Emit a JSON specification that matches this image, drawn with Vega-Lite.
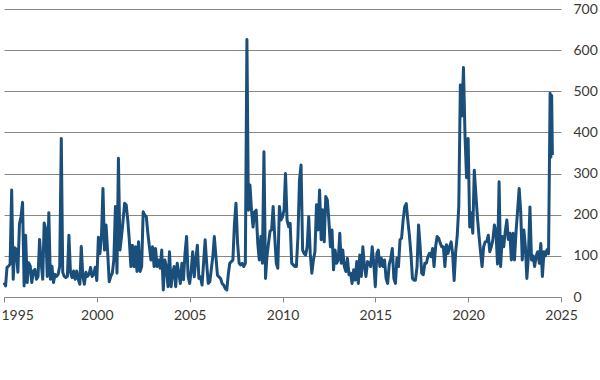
{
  "$schema": "https://vega.github.io/schema/vega-lite/v6.json",
  "autosize": "none",
  "width": 557,
  "height": 288,
  "padding": {"left": 4, "top": 9, "right": 39, "bottom": 83},
  "background": "white",
  "config": {"view": {"stroke": null}, "font": "Lato"},
  "data": {"values": [
    {"d":"1995-01","v":35},{"d":"1995-02","v":27},{"d":"1995-03","v":72},{"d":"1995-04","v":75},{"d":"1995-05","v":80},{"d":"1995-06","v":260},{"d":"1995-07","v":43},{"d":"1995-08","v":120},{"d":"1995-09","v":115},{"d":"1995-10","v":60},{"d":"1995-11","v":177},{"d":"1995-12","v":195},
    {"d":"1996-01","v":230},{"d":"1996-02","v":27},{"d":"1996-03","v":150},{"d":"1996-04","v":35},{"d":"1996-05","v":83},{"d":"1996-06","v":75},{"d":"1996-07","v":35},{"d":"1996-08","v":63},{"d":"1996-09","v":67},{"d":"1996-10","v":43},{"d":"1996-11","v":50},{"d":"1996-12","v":140},
    {"d":"1997-01","v":83},{"d":"1997-02","v":43},{"d":"1997-03","v":180},{"d":"1997-04","v":165},{"d":"1997-05","v":50},{"d":"1997-06","v":205},{"d":"1997-07","v":43},{"d":"1997-08","v":75},{"d":"1997-09","v":35},{"d":"1997-10","v":55},{"d":"1997-11","v":50},{"d":"1997-12","v":55},
    {"d":"1998-01","v":75},{"d":"1998-02","v":385},{"d":"1998-03","v":60},{"d":"1998-04","v":50},{"d":"1998-05","v":47},{"d":"1998-06","v":50},{"d":"1998-07","v":150},{"d":"1998-08","v":60},{"d":"1998-09","v":47},{"d":"1998-10","v":63},{"d":"1998-11","v":43},{"d":"1998-12","v":63},
    {"d":"1999-01","v":43},{"d":"1999-02","v":31},{"d":"1999-03","v":123},{"d":"1999-04","v":50},{"d":"1999-05","v":31},{"d":"1999-06","v":60},{"d":"1999-07","v":50},{"d":"1999-08","v":55},{"d":"1999-09","v":72},{"d":"1999-10","v":50},{"d":"1999-11","v":55},{"d":"1999-12","v":72},
    {"d":"2000-01","v":40},{"d":"2000-02","v":145},{"d":"2000-03","v":105},{"d":"2000-04","v":145},{"d":"2000-05","v":264},{"d":"2000-06","v":114},{"d":"2000-07","v":175},{"d":"2000-08","v":110},{"d":"2000-09","v":37},{"d":"2000-10","v":50},{"d":"2000-11","v":58},{"d":"2000-12","v":90},
    {"d":"2001-01","v":220},{"d":"2001-02","v":58},{"d":"2001-03","v":337},{"d":"2001-04","v":114},{"d":"2001-05","v":147},{"d":"2001-06","v":187},{"d":"2001-07","v":228},{"d":"2001-08","v":224},{"d":"2001-09","v":187},{"d":"2001-10","v":139},{"d":"2001-11","v":74},{"d":"2001-12","v":126},
    {"d":"2002-01","v":74},{"d":"2002-02","v":122},{"d":"2002-03","v":62},{"d":"2002-04","v":134},{"d":"2002-05","v":62},{"d":"2002-06","v":74},{"d":"2002-07","v":207},{"d":"2002-08","v":199},{"d":"2002-09","v":195},{"d":"2002-10","v":155},{"d":"2002-11","v":122},{"d":"2002-12","v":90},
    {"d":"2003-01","v":122},{"d":"2003-02","v":74},{"d":"2003-03","v":118},{"d":"2003-04","v":74},{"d":"2003-05","v":90},{"d":"2003-06","v":70},{"d":"2003-07","v":114},{"d":"2003-08","v":17},{"d":"2003-09","v":90},{"d":"2003-10","v":74},{"d":"2003-11","v":25},{"d":"2003-12","v":110},
    {"d":"2004-01","v":25},{"d":"2004-02","v":58},{"d":"2004-03","v":74},{"d":"2004-04","v":25},{"d":"2004-05","v":82},{"d":"2004-06","v":58},{"d":"2004-07","v":33},{"d":"2004-08","v":82},{"d":"2004-09","v":42},{"d":"2004-10","v":106},{"d":"2004-11","v":147},{"d":"2004-12","v":50},
    {"d":"2005-01","v":33},{"d":"2005-02","v":66},{"d":"2005-03","v":110},{"d":"2005-04","v":49},{"d":"2005-05","v":90},{"d":"2005-06","v":126},{"d":"2005-07","v":45},{"d":"2005-08","v":49},{"d":"2005-09","v":29},{"d":"2005-10","v":82},{"d":"2005-11","v":139},{"d":"2005-12","v":82},
    {"d":"2006-01","v":33},{"d":"2006-02","v":37},{"d":"2006-03","v":66},{"d":"2006-04","v":98},{"d":"2006-05","v":147},{"d":"2006-06","v":98},{"d":"2006-07","v":53},{"d":"2006-08","v":49},{"d":"2006-09","v":45},{"d":"2006-10","v":33},{"d":"2006-11","v":29},{"d":"2006-12","v":21},
    {"d":"2007-01","v":17},{"d":"2007-02","v":57},{"d":"2007-03","v":82},{"d":"2007-04","v":86},{"d":"2007-05","v":90},{"d":"2007-06","v":179},{"d":"2007-07","v":228},{"d":"2007-08","v":131},{"d":"2007-09","v":82},{"d":"2007-10","v":78},{"d":"2007-11","v":82},{"d":"2007-12","v":74},
    {"d":"2008-01","v":82},{"d":"2008-02","v":626},{"d":"2008-03","v":211},{"d":"2008-04","v":272},{"d":"2008-05","v":211},{"d":"2008-06","v":170},{"d":"2008-07","v":207},{"d":"2008-08","v":211},{"d":"2008-09","v":131},{"d":"2008-10","v":90},{"d":"2008-11","v":147},{"d":"2008-12","v":82},
    {"d":"2009-01","v":353},{"d":"2009-02","v":45},{"d":"2009-03","v":98},{"d":"2009-04","v":131},{"d":"2009-05","v":160},{"d":"2009-06","v":163},{"d":"2009-07","v":220},{"d":"2009-08","v":147},{"d":"2009-09","v":82},{"d":"2009-10","v":70},{"d":"2009-11","v":220},{"d":"2009-12","v":187},
    {"d":"2010-01","v":195},{"d":"2010-02","v":211},{"d":"2010-03","v":300},{"d":"2010-04","v":187},{"d":"2010-05","v":171},{"d":"2010-06","v":179},{"d":"2010-07","v":82},{"d":"2010-08","v":78},{"d":"2010-09","v":74},{"d":"2010-10","v":74},{"d":"2010-11","v":147},{"d":"2010-12","v":284},
    {"d":"2011-01","v":321},{"d":"2011-02","v":114},{"d":"2011-03","v":106},{"d":"2011-04","v":102},{"d":"2011-05","v":122},{"d":"2011-06","v":195},{"d":"2011-07","v":106},{"d":"2011-08","v":58},{"d":"2011-09","v":90},{"d":"2011-10","v":110},{"d":"2011-11","v":224},{"d":"2011-12","v":163},
    {"d":"2012-01","v":260},{"d":"2012-02","v":139},{"d":"2012-03","v":212},{"d":"2012-04","v":134},{"d":"2012-05","v":244},{"d":"2012-06","v":236},{"d":"2012-07","v":187},{"d":"2012-08","v":122},{"d":"2012-09","v":163},{"d":"2012-10","v":66},{"d":"2012-11","v":114},{"d":"2012-12","v":82},
    {"d":"2013-01","v":90},{"d":"2013-02","v":155},{"d":"2013-03","v":82},{"d":"2013-04","v":114},{"d":"2013-05","v":74},{"d":"2013-06","v":62},{"d":"2013-07","v":94},{"d":"2013-08","v":54},{"d":"2013-09","v":58},{"d":"2013-10","v":33},{"d":"2013-11","v":66},{"d":"2013-12","v":41},
    {"d":"2014-01","v":86},{"d":"2014-02","v":33},{"d":"2014-03","v":102},{"d":"2014-04","v":50},{"d":"2014-05","v":122},{"d":"2014-06","v":74},{"d":"2014-07","v":50},{"d":"2014-08","v":86},{"d":"2014-09","v":82},{"d":"2014-10","v":74},{"d":"2014-11","v":122},{"d":"2014-12","v":82},
    {"d":"2015-01","v":25},{"d":"2015-02","v":106},{"d":"2015-03","v":114},{"d":"2015-04","v":74},{"d":"2015-05","v":94},{"d":"2015-06","v":74},{"d":"2015-07","v":90},{"d":"2015-08","v":45},{"d":"2015-09","v":33},{"d":"2015-10","v":78},{"d":"2015-11","v":94},{"d":"2015-12","v":118},
    {"d":"2016-01","v":45},{"d":"2016-02","v":33},{"d":"2016-03","v":94},{"d":"2016-04","v":74},{"d":"2016-05","v":139},{"d":"2016-06","v":143},{"d":"2016-07","v":187},{"d":"2016-08","v":219},{"d":"2016-09","v":227},{"d":"2016-10","v":187},{"d":"2016-11","v":151},{"d":"2016-12","v":106},
    {"d":"2017-01","v":45},{"d":"2017-02","v":41},{"d":"2017-03","v":41},{"d":"2017-04","v":74},{"d":"2017-05","v":175},{"d":"2017-06","v":122},{"d":"2017-07","v":58},{"d":"2017-08","v":54},{"d":"2017-09","v":82},{"d":"2017-10","v":82},{"d":"2017-11","v":98},{"d":"2017-12","v":106},
    {"d":"2018-01","v":98},{"d":"2018-02","v":118},{"d":"2018-03","v":74},{"d":"2018-04","v":122},{"d":"2018-05","v":147},{"d":"2018-06","v":143},{"d":"2018-07","v":131},{"d":"2018-08","v":122},{"d":"2018-09","v":122},{"d":"2018-10","v":74},{"d":"2018-11","v":127},{"d":"2018-12","v":106},
    {"d":"2019-01","v":122},{"d":"2019-02","v":134},{"d":"2019-03","v":106},{"d":"2019-04","v":40},{"d":"2019-05","v":110},{"d":"2019-06","v":150},{"d":"2019-07","v":220},{"d":"2019-08","v":515},{"d":"2019-09","v":440},{"d":"2019-10","v":558},{"d":"2019-11","v":390},{"d":"2019-12","v":290},
    {"d":"2020-01","v":385},{"d":"2020-02","v":170},{"d":"2020-03","v":205},{"d":"2020-04","v":155},{"d":"2020-05","v":308},{"d":"2020-06","v":250},{"d":"2020-07","v":195},{"d":"2020-08","v":150},{"d":"2020-09","v":110},{"d":"2020-10","v":74},{"d":"2020-11","v":122},{"d":"2020-12","v":134},
    {"d":"2021-01","v":135},{"d":"2021-02","v":150},{"d":"2021-03","v":110},{"d":"2021-04","v":122},{"d":"2021-05","v":139},{"d":"2021-06","v":175},{"d":"2021-07","v":160},{"d":"2021-08","v":80},{"d":"2021-09","v":280},{"d":"2021-10","v":74},{"d":"2021-11","v":147},{"d":"2021-12","v":122},
    {"d":"2022-01","v":160},{"d":"2022-02","v":187},{"d":"2022-03","v":140},{"d":"2022-04","v":155},{"d":"2022-05","v":90},{"d":"2022-06","v":155},{"d":"2022-07","v":90},{"d":"2022-08","v":160},{"d":"2022-09","v":211},{"d":"2022-10","v":264},{"d":"2022-11","v":205},{"d":"2022-12","v":90},
    {"d":"2023-01","v":163},{"d":"2023-02","v":122},{"d":"2023-03","v":45},{"d":"2023-04","v":100},{"d":"2023-05","v":219},{"d":"2023-06","v":90},{"d":"2023-07","v":100},{"d":"2023-08","v":74},{"d":"2023-09","v":100},{"d":"2023-10","v":110},{"d":"2023-11","v":82},{"d":"2023-12","v":130},
    {"d":"2024-01","v":50},{"d":"2024-02","v":110},{"d":"2024-03","v":100},{"d":"2024-04","v":115},{"d":"2024-05","v":105},{"d":"2024-06-01","v":495},{"d":"2024-06-16","v":340},{"d":"2024-07-01","v":490},{"d":"2024-07-16","v":345}
  ]},
  "mark": {"type": "line", "color": "#1b4f7b", "strokeWidth": 3, "strokeJoin": "round"},
  "encoding": {
    "x": {
      "field": "d", "type": "temporal",
      "scale": {"type": "utc", "domain": [{"year": 1995, "month": 1, "date": 1, "utc": true}, {"year": 2025, "month": 1, "date": 1, "utc": true}]},
      "axis": {
        "title": null, "format": "%Y", "tickCount": {"interval": "year", "step": 5},
        "grid": false, "domainColor": "#8a8a8a", "tickColor": "#8a8a8a", "tickSize": 5,
        "labelFontSize": 14, "labelColor": "#3b3833", "labelPadding": 6, "labelFlush": false, "labelFont": "Lato",
        "labelAlign": {"condition": {"test": "utcyear(datum.value) == 1995", "value": "left"}, "value": "center"},
        "labelOffset": {"condition": {"test": "utcyear(datum.value) == 1995", "value": -3}, "value": 0}
      }
    },
    "y": {
      "field": "v", "type": "quantitative",
      "scale": {"domain": [0, 700], "nice": false},
      "axis": {
        "orient": "right", "title": null, "values": [0, 100, 200, 300, 400, 500, 600, 700],
        "grid": true, "gridColor": "#8c877a", "gridWidth": 1, "domain": false, "ticks": false, "tickSize": 0,
        "labelFontSize": 14, "labelColor": "#3b3833", "labelPadding": 12, "labelFont": "Lato"
      }
    }
  }
}
